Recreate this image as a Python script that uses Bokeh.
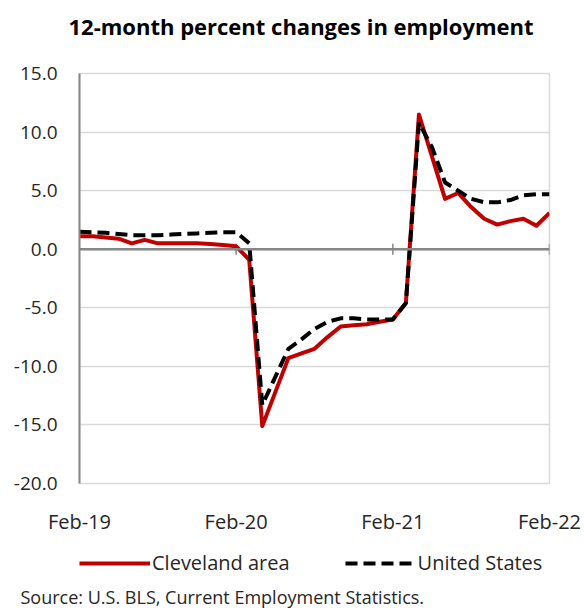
from bokeh.plotting import figure
from bokeh.models import Range1d, Span, Legend, LegendItem, Title, FixedTicker, NumeralTickFormatter
from bokeh.layouts import column
from bokeh.embed import file_html
from bokeh.resources import INLINE
import math

# month index 0 = Feb-19 ... 36 = Feb-22
months = list(range(37))
tick_positions = [0, 12, 24, 36]
tick_labels = ["Feb-19", "Feb-20", "Feb-21", "Feb-22"]
y_ticks = [-20, -15, -10, -5, 0, 5, 10, 15]

cleveland = [1.1, 1.1, 1.0, 0.9, 0.5, 0.8, 0.5, 0.5, 0.5, 0.5, 0.45, 0.35,
             0.25, -0.9, -15.1, -12.2, -9.3, -8.9, -8.5, -7.5, -6.6, -6.5, -6.4, -6.2,
             -6.0, -4.6, 11.5, 7.9, 4.3, 4.8, 3.6, 2.6, 2.1, 2.4, 2.6, 2.0,
             3.1]
us = [1.5, 1.45, 1.4, 1.3, 1.2, 1.2, 1.2, 1.25, 1.3, 1.35, 1.4, 1.45,
      1.45, 0.5, -13.3, -10.9, -8.5, -7.7, -6.8, -6.2, -5.9, -5.9, -6.0, -6.0,
      -6.0, -4.6, 10.8, 8.7, 5.7, 5.0, 4.3, 4.0, 4.0, 4.2, 4.6, 4.7,
      4.7]

title_text = "12-month percent changes in employment"
series_names = ["Cleveland area", "United States"]
source_text = "Source: U.S. BLS, Current Employment Statistics."

FONT = "Open Sans"
TXT = "#262626"
RED = "#C00000"
DASH = "12 6"
W = 584
H_TOP, H_MAIN, H_BOT = 42, 498, 68


def blank(h):
    f = figure(width=W, height=h, x_range=Range1d(0, 1), y_range=Range1d(0, 1),
               output_backend="svg", toolbar_location=None,
               x_axis_location=None, y_axis_location=None,
               min_border_left=79, min_border_right=35, min_border_top=0, min_border_bottom=0)
    f.grid.grid_line_color = None
    f.outline_line_color = None
    return f


# ---- header (title sits in the lower panel of a thin strip) ----
top = blank(H_TOP)
top.add_layout(Title(text=title_text, align="left", offset=-11, standoff=4,
                     text_font=FONT, text_font_size="22px", text_font_style="bold",
                     text_color="black"), "below")

# ---- main chart ----
p = figure(width=W, height=H_MAIN, x_range=Range1d(0, 36), y_range=Range1d(-20, 15),
           output_backend="svg", toolbar_location=None,
           min_border_left=79, min_border_right=35, min_border_top=31, min_border_bottom=57)

p.outline_line_color = "#d9d9d9"
p.outline_line_width = 1.5
p.xgrid.grid_line_color = None
p.ygrid.grid_line_color = "#d9d9d9"
p.ygrid.grid_line_width = 1.5
p.ygrid.ticker = FixedTicker(ticks=y_ticks)

p.yaxis.ticker = FixedTicker(ticks=y_ticks)
p.yaxis.formatter = NumeralTickFormatter(format="0.0")
p.yaxis.axis_line_color = "#868686"
p.yaxis.axis_line_width = 2
p.yaxis.major_tick_line_color = None
p.yaxis.minor_tick_line_color = None
p.yaxis.major_tick_out = 0
p.yaxis.major_tick_in = 0
p.yaxis.major_label_standoff = 22
p.yaxis.major_label_text_font = FONT
p.yaxis.major_label_text_font_size = "19px"
p.yaxis.major_label_text_color = TXT

p.xaxis.ticker = FixedTicker(ticks=tick_positions)
p.xaxis.major_label_overrides = {t: l for t, l in zip(tick_positions, tick_labels)}
p.xaxis.axis_line_color = None
p.xaxis.major_tick_line_color = None
p.xaxis.minor_tick_line_color = None
p.xaxis.major_tick_out = 0
p.xaxis.major_tick_in = 0
p.xaxis.major_label_standoff = 24
p.xaxis.major_label_text_font = FONT
p.xaxis.major_label_text_font_size = "20px"
p.xaxis.major_label_text_color = TXT

p.add_layout(Span(location=0, dimension="width", line_color="#868686", line_width=2.5))
p.scatter(x=tick_positions[1:], y=[0] * 3, marker="dash", angle=math.pi / 2, size=11,
          line_color="#868686", line_width=1.5)

p.line(months, cleveland, line_color=RED, line_width=4, line_join="round")
p.line(months, us, line_color="black", line_width=4, line_dash=DASH)

# ---- legend + source ----
bot = blank(H_BOT)
nan = float("nan")
g1 = bot.line([nan], [nan], line_color=RED, line_width=4)
g2 = bot.line([nan], [nan], line_color="black", line_width=4, line_dash=DASH)
legend = Legend(items=[LegendItem(label=series_names[0], renderers=[g1]),
                       LegendItem(label=series_names[1], renderers=[g2])],
                orientation="horizontal", location=(0, 6),
                glyph_width=71, glyph_height=20, label_standoff=2, spacing=55,
                padding=0, margin=0,
                label_text_font=FONT, label_text_font_size="20px", label_text_color=TXT,
                border_line_color=None, background_fill_alpha=0)
bot.add_layout(legend, "center")
bot.add_layout(Title(text=source_text, align="left", offset=-59, standoff=0,
                     text_font=FONT, text_font_size="18px", text_font_style="normal",
                     text_color=TXT), "below")

layout = column(top, p, bot, spacing=0)
open("out.html", "w").write(file_html(layout, INLINE))
